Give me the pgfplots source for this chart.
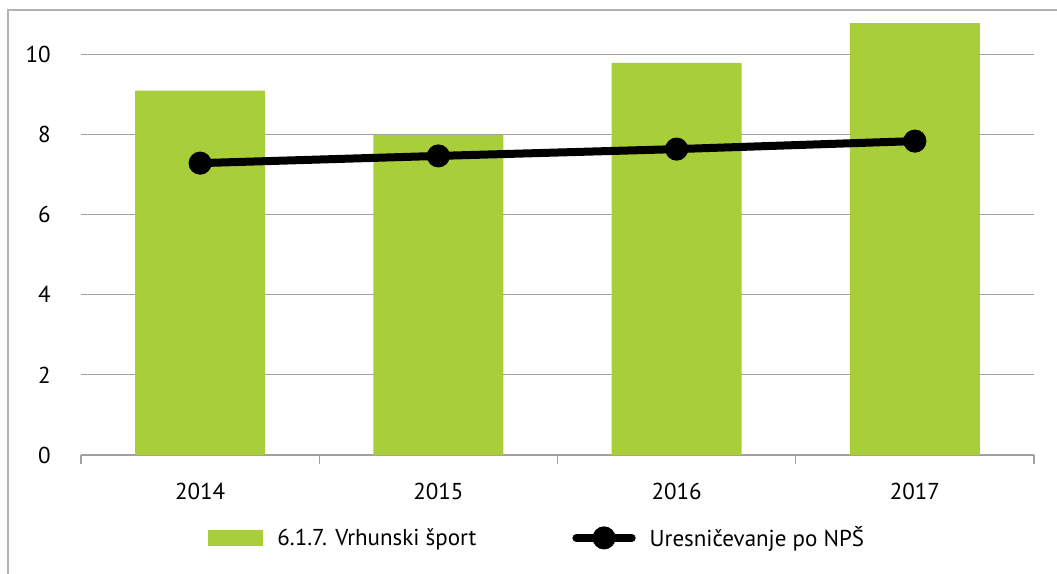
\documentclass[border=0pt]{standalone}
\usepackage{pgfplots}
\pgfplotsset{compat=1.18}
\usepackage{fontspec}
\setmainfont{PT Sans}
\definecolor{barGreen}{RGB}{168,206,58}
\definecolor{gridGray}{RGB}{160,160,160}
\definecolor{frameGray}{RGB}{178,178,178}
\newcommand{\chartfont}{\fontsize{17.25}{20}\selectfont}

\begin{document}
\begin{tikzpicture}
\useasboundingbox (0pt,0pt) rectangle (792.75pt,-430.5pt);
% outer frame (only top and left edges fall inside the picture)
\draw[frameGray, line width=1.5pt] (6pt,-431pt) -- (6pt,-7.5pt) -- (793pt,-7.5pt);
\begin{axis}[
    at={(60.75pt,-341.25pt)}, anchor=south west,
    scale only axis,
    width=714.75pt, height=330.75pt,
    xmin=-0.5, xmax=3.5,
    ymin=0, ymax=11,
    axis lines*=left,
    y axis line style={draw=none},
    x axis line style={gridGray, line width=1.1pt},
    xtick={0,1,2,3},
    xticklabels={2014,2015,2016,2017},
    minor xtick={-0.5,0.5,1.5,2.5,3.5},
    ytick={0,2,4,6,8,10},
    major tick length=0pt,
    minor tick length=6.75pt,
    tick align=outside,
    major tick style={draw=none},
    minor x tick style={gridGray, line width=1.1pt},
    ymajorgrids,
    grid style={gridGray, line width=0.8pt},
    tick label style={font=\chartfont, text=black},
    /pgf/number format/assume math mode=true,
    xticklabel style={inner sep=0pt, anchor=north, yshift=-21pt},
    yticklabel style={inner sep=0pt, anchor=east, xshift=-22.5pt},
    legend columns=2,
    legend style={
        draw=none, fill=none,
        at={(0.1333,-0.188)}, anchor=west,
        inner sep=0pt,
        font=\chartfont,
        nodes={inner sep=0pt, text=black},
        /tikz/every odd column/.append style={column sep=10.5pt},
        /tikz/every even column/.append style={column sep=72pt}
    },
]
\addplot[ybar, bar width=97.5pt, fill=barGreen, draw=none,
    legend image code/.code={\fill[barGreen] (0pt,-6pt) rectangle (41.25pt,6pt);}]
    coordinates {(0,9.09) (1,7.98) (2,9.78) (3,10.77)};
\addlegendentry{6.1.7. Vrhunski šport}

\addplot[black, line width=6pt, mark=*, mark size=5.6pt,
    mark options={draw=none, fill=black},
    legend image code/.code={
        \draw[black, line width=6pt, line cap=round] (2.5pt,0pt) -- (44pt,0pt);
        \fill[black] (23.25pt,0pt) circle (5.6pt);}]
    coordinates {(0,7.28) (1,7.46) (2,7.63) (3,7.83)};
\addlegendentry{Uresničevanje po NPŠ}
\end{axis}
\end{tikzpicture}
\end{document}
